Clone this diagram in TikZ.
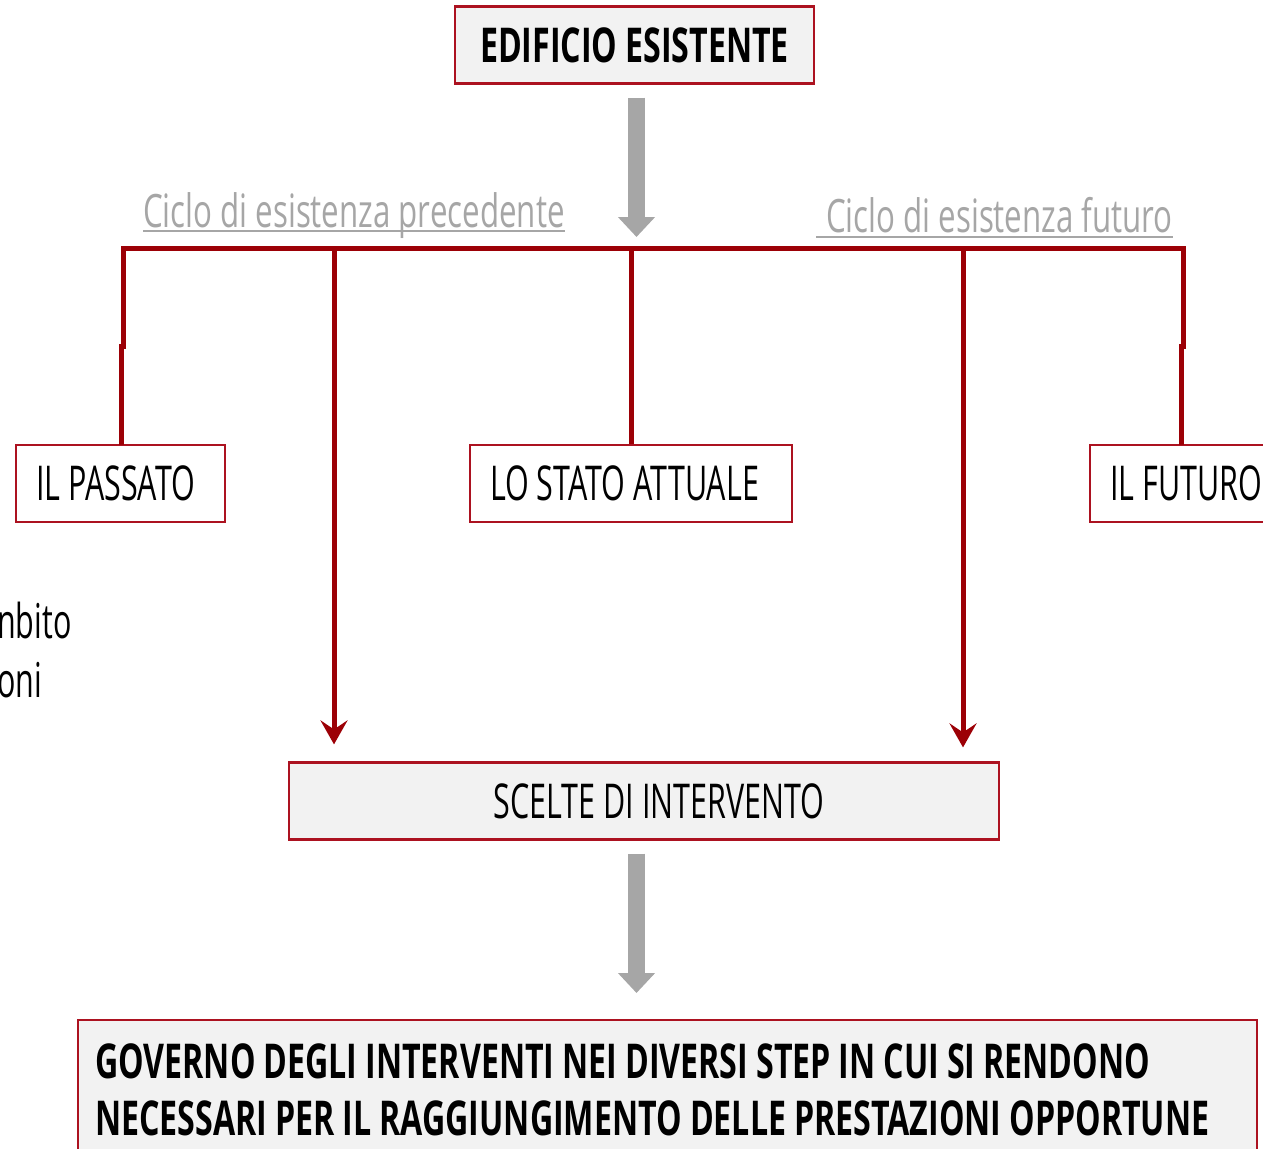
\documentclass[tikz,border=0pt]{standalone}
\usepackage{fontspec}
\setmainfont{Open Sans}[FakeStretch=0.635]
\newfontfamily\govfont{Open Sans}[FakeStretch=0.67]
\newfontfamily\cycfont{Open Sans}[FakeStretch=0.68]
\newcommand\myregsp{\spaceskip 8pt\relax}
\newcommand\myboldsp{\spaceskip 8pt\relax}
\usetikzlibrary{arrows.meta}
\definecolor{edgered}{RGB}{172,18,32}
\definecolor{linered}{RGB}{156,0,6}
\definecolor{boxfill}{RGB}{242,242,242}
\definecolor{arrgray}{RGB}{166,166,166}
\tikzset{
  boxstyle/.style={draw=edgered, line width=2.2pt, minimum height=77pt, inner ysep=0pt, font={\fontsize{48}{52}\selectfont\myregsp}},
  grayfill/.style={fill=boxfill},
  redline/.style={draw=linered, line width=5pt, line join=miter},
  redarrow/.style={redline, -{Stealth[length=24pt,width=27pt,inset=9pt]}},
  grayarrow/.style={draw=arrgray, line width=17pt, -{Triangle[length=20pt,width=36pt]}},
  cycletext/.style={text=arrgray, inner sep=0pt, anchor=base west, font={\cycfont\fontsize{46}{50}\selectfont\myregsp}},
  govtext/.style={inner sep=0pt, anchor=north west, align=left, font={\govfont\bfseries\fontsize{48}{57}\selectfont\myboldsp}},
  underl/.style={draw=arrgray, line width=2pt},
  sidetext/.style={inner sep=0pt, anchor=base west, font=\fontsize{48}{52}\selectfont}
}
\begin{document}
\begin{tikzpicture}[x=1pt,y=-1pt]
\useasboundingbox (0,0) rectangle (1263,1148);
\clip (0,0) rectangle (1263,1148);
% boxes
\node[boxstyle, grayfill, minimum width=359pt, font={\govfont\bfseries\fontsize{48}{52}\selectfont\myboldsp}] (edif) at (634.5,45) {EDIFICIO ESISTENTE};
\node[boxstyle, fill=white, minimum width=209pt, text width=169pt, inner xsep=20pt, align=left] (pass) at (120.5,483.5) {\mbox{\myregsp IL PASSATO}};
\node[boxstyle, fill=white, minimum width=322pt, text width=282pt, inner xsep=20pt, align=left] (stato) at (631,483.5) {\mbox{\myregsp LO STATO ATTUALE}};
\node[boxstyle, fill=white, minimum width=240pt, text width=200pt, inner xsep=20pt, align=left] (fut) at (1210,483.5) {\mbox{\myregsp IL FUTURO}};
\node[boxstyle, grayfill, minimum width=710pt] (scelte) at (644,801) {\hspace*{30pt}SCELTE DI INTERVENTO};
\node[boxstyle, grayfill, minimum width=1179pt, minimum height=150pt, anchor=north west] (gov) at (77,1019) {};
\node[govtext] (govt) at (95,1043) {\mbox{\myboldsp GOVERNO DEGLI INTERVENTI NEI DIVERSI STEP IN CUI SI RENDONO}\\\mbox{\myboldsp NECESSARI PER IL RAGGIUNGIMENTO DELLE PRESTAZIONI OPPORTUNE}};
% cycle labels
\node[cycletext] (prec) at (143,227) {Ciclo di esistenza precedente};
\draw[underl] ([yshift=-4pt]prec.base west) -- ([yshift=-4pt]prec.base east);
\node[cycletext] (futl) at (816,232) {\hspace*{10pt}Ciclo di esistenza futuro};
\draw[underl] ([yshift=-5pt]futl.base west) -- ([yshift=-5pt]futl.base east);
% side text
\node[sidetext] (s1) at (-3,638) {nbito};
\node[sidetext] (s2) at (-3,697) {oni};
% red tree
\coordinate (barL) at (123,248);
\coordinate (barR) at (1183,248);
\coordinate (futtop) at (1181,445);
\draw[redline] (121,445) -- (121,346) -- (123,346) -- (barL) -- (barR) -- (1183,346) -- (1181,346) -- (futtop);
\draw[redline] (stato.north |- barL) -- (stato.north);
\draw[redarrow, shorten >=17pt] (334,248) -- ([xshift=-310pt]scelte.north);
\draw[redarrow, shorten >=14pt] (963,248) -- ([xshift=319pt]scelte.north);
% gray arrows
\draw[grayarrow, shorten <=13pt, shorten >=11pt] ([xshift=2pt]edif.south) -- ([xshift=2pt]edif.south |- barL);
\draw[grayarrow, shorten <=13pt, shorten >=26pt] ([xshift=-7.5pt]scelte.south) -- ([xshift=-7.5pt]scelte.south |- gov.north);
\end{tikzpicture}
\end{document}
